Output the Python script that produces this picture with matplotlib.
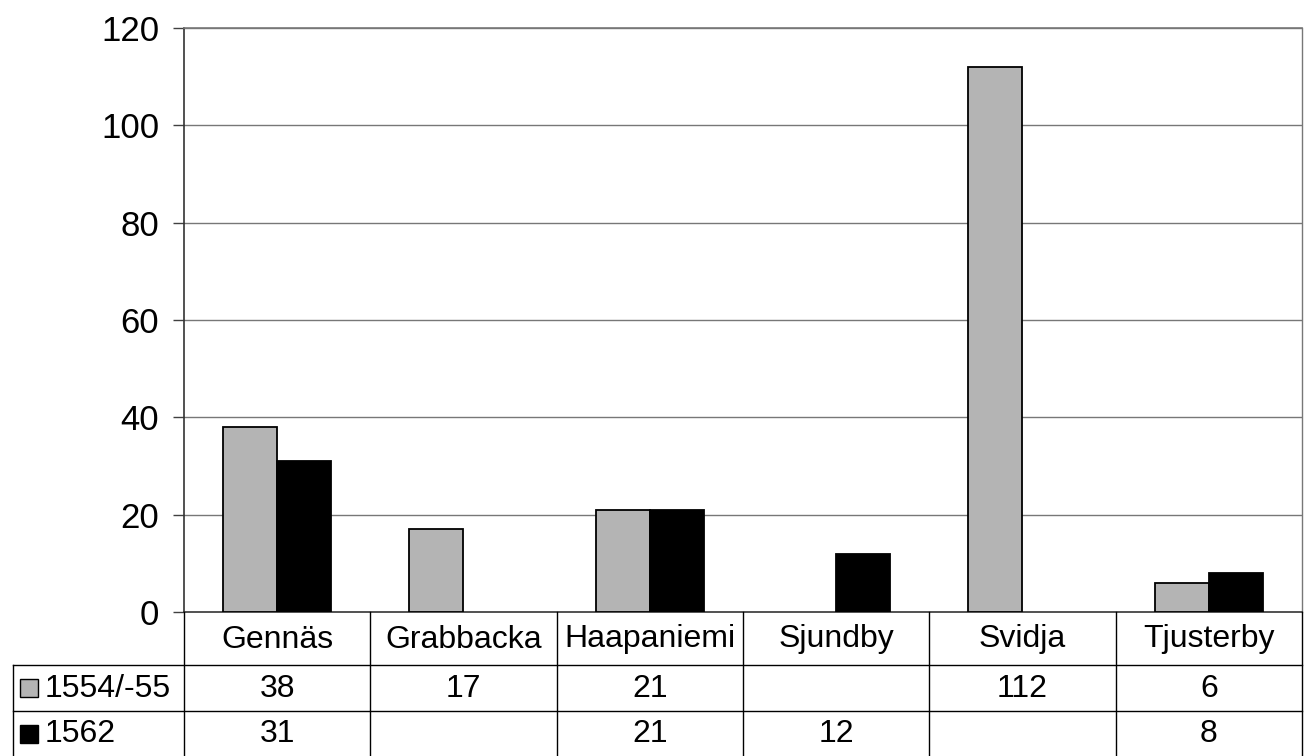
import matplotlib
matplotlib.use("Agg")
import matplotlib.pyplot as plt
from matplotlib.patches import Rectangle
from matplotlib.lines import Line2D
import numpy as np

plt.rcParams['font.family'] = ['Liberation Sans', 'DejaVu Sans']

categories = ["Gennäs", "Grabbacka", "Haapaniemi", "Sjundby", "Svidja", "Tjusterby"]
series_names = ["1554/-55", "1562"]
values_1554 = [38, 17, 21, None, 112, 6]
values_1562 = [31, None, 21, 12, None, 8]
y_ticks = [0, 20, 40, 60, 80, 100, 120]

colors = ["#b4b4b4", "#000000"]

W, H = 1305, 756
fig = plt.figure(figsize=(W / 100, H / 100), dpi=100)

# plot area in pixel coordinates
px_left, px_right, px_top, px_bottom = 184, 1302, 28, 612
ax = fig.add_axes([px_left / W, 1 - px_bottom / H,
                   (px_right - px_left) / W, (px_bottom - px_top) / H])

n = len(categories)
x = np.arange(n)
bw = 0.29
for vals, off, col in [(values_1554, -bw / 2, colors[0]), (values_1562, bw / 2, colors[1])]:
    for xi, v in zip(x, vals):
        if v is None:
            continue
        ax.bar(xi + off, v, width=bw, color=col, edgecolor="#000000", linewidth=1.3, zorder=3)

ax.set_xlim(-0.5, n - 0.5)
ax.set_ylim(0, 120)
ax.set_yticks(y_ticks)
ax.set_yticklabels([str(t) for t in y_ticks], fontsize=25)
ax.tick_params(axis="y", length=8, width=1, color="#404040", pad=10)
ax.set_xticks([])
for t in y_ticks[1:]:
    ax.axhline(t, color="#777777", linewidth=1.0, zorder=1)
for side, sp in ax.spines.items():
    sp.set_color("#333333")
    sp.set_linewidth(1.2)
ax.spines["top"].set_color("#777777")
ax.spines["right"].set_color("#777777")
ax.spines["right"].set_linewidth(1.0)

# data table beneath the plot area
tbl_left = 13
row_lines = [612, 665, 711, 756]
col_w = (px_right - px_left) / n


def fx(px):
    return px / W


def fy(py):
    return 1 - py / H


def hline(y, x0, x1):
    fig.add_artist(Line2D([fx(x0), fx(x1)], [fy(y), fy(y)], color="#000000", linewidth=1.0))


def vline(xp, y0, y1):
    fig.add_artist(Line2D([fx(xp), fx(xp)], [fy(y0), fy(y1)], color="#000000", linewidth=1.0))


hline(row_lines[1], tbl_left, px_right)
hline(row_lines[2], tbl_left, px_right)
for i in range(n + 1):
    vline(px_left + i * col_w, row_lines[0], row_lines[3])
vline(tbl_left, row_lines[1], row_lines[3])

fs = 23
for i, cat in enumerate(categories):
    cx = px_left + (i + 0.5) * col_w
    fig.text(fx(cx), fy((row_lines[0] + row_lines[1]) / 2 + 1), cat,
             ha="center", va="center", fontsize=fs)
    for r, vals in enumerate([values_1554, values_1562]):
        v = vals[i]
        if v is None:
            continue
        fig.text(fx(cx), fy((row_lines[r + 1] + row_lines[r + 2]) / 2 + 1), str(v),
                 ha="center", va="center", fontsize=fs)

for r, (name, col) in enumerate(zip(series_names, colors)):
    cy = (row_lines[r + 1] + row_lines[r + 2]) / 2
    size = 18
    fig.add_artist(Rectangle((fx(20), fy(cy + size / 2)), size / W, size / H,
                             facecolor=col, edgecolor="#000000", linewidth=1.0))
    fig.text(fx(45), fy(cy + 1), name, ha="left", va="center", fontsize=fs)

fig.savefig("out.png", dpi=100, facecolor="white")
